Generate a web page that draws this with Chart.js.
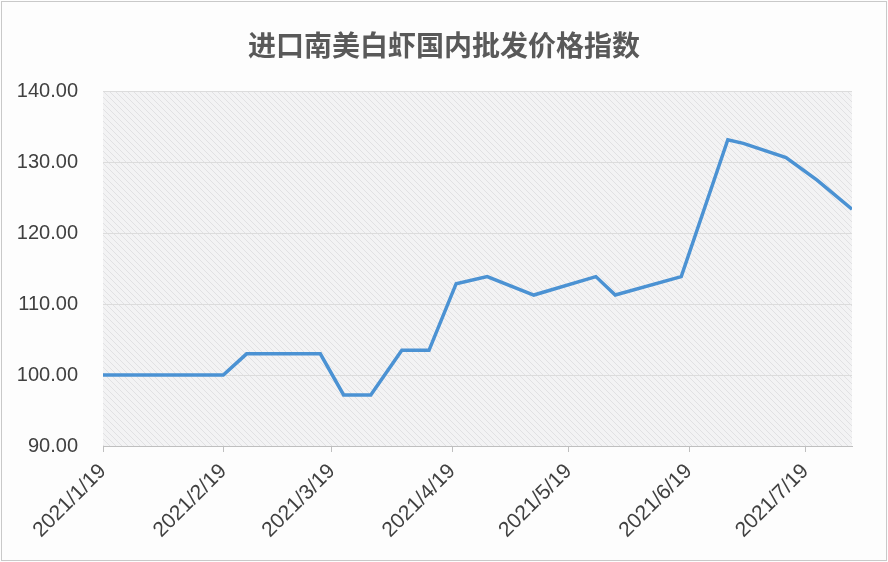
<!DOCTYPE html>
<html>
<head>
<meta charset="utf-8">
<script src="https://cdn.jsdelivr.net/npm/chart.js@4/dist/chart.umd.min.js"></script>
<style>
  html, body { margin: 0; padding: 0; background: #fdfdfd; }
  #wrap { width: 888px; height: 562px; position: relative; }
</style>
</head>
<body>
<div id="wrap"><canvas id="price"></canvas></div>
<script>
'use strict';

const title = "进口南美白虾国内批发价格指数";

var dates = [
    "2021/1/19", "2021/2/19", "2021/2/25", "2021/3/16", "2021/3/22",
    "2021/3/29", "2021/4/6", "2021/4/13", "2021/4/20", "2021/4/28",
    "2021/5/10", "2021/5/26", "2021/5/31", "2021/6/17", "2021/6/29",
    "2021/7/3", "2021/7/14", "2021/7/22", "2021/7/31"
];
var values = [
    100.0, 100.0, 103.0, 103.0, 97.2,
    97.2, 103.5, 103.5, 112.9, 113.9,
    111.3, 113.9, 111.3, 113.9, 133.2,
    132.7, 130.7, 127.5, 123.4
];

// x tick labels, one per month
var tickLabels = ["2021/1/19", "2021/2/19", "2021/3/19", "2021/4/19", "2021/5/19", "2021/6/19", "2021/7/19"];

// y ticks
var yMin = 90, yMax = 140, yStep = 10;

function toDay(s){
    var p = s.split("/");
    return Date.UTC(+p[0], +p[1] - 1, +p[2]) / 86400000;
}

function dayLabel(d){
    var dt = new Date(d * 86400000);
    return dt.getUTCFullYear() + "/" + (dt.getUTCMonth() + 1) + "/" + dt.getUTCDate();
}

var points = dates.map((d, i) => ({x: toDay(d), y: values[i]}));

// hatched plot background
function makeHatch(){
    var c = document.createElement("canvas");
    c.width = 6; c.height = 6;
    var g = c.getContext("2d");
    g.fillStyle = "#f3f3f4";
    g.fillRect(0, 0, 6, 6);
    g.strokeStyle = "#e1e1e3";
    g.lineWidth = 1;
    g.beginPath();
    g.moveTo(-1, -1); g.lineTo(7, 7);
    g.moveTo(-4, 2); g.lineTo(4, 10);
    g.moveTo(2, -4); g.lineTo(10, 4);
    g.stroke();
    return g.createPattern(c, "repeat");
}

var hatchPlugin = {
    id: "hatch",
    beforeDraw(chart){
        var a = chart.chartArea;
        var ctx = chart.ctx;
        ctx.save();
        ctx.strokeStyle = "#c9c9c9";
        ctx.lineWidth = 1;
        ctx.strokeRect(1.5, 1.5, chart.width - 3, chart.height - 3);
        ctx.fillStyle = makeHatch();
        ctx.fillRect(a.left, a.top, a.right - a.left, a.bottom - a.top);
        ctx.restore();
    }
};

const ctx = document.getElementById("price").getContext("2d");
var priceChart = new Chart(ctx, {
    type: "line",
    data: {
        datasets: [{
            label: title,
            data: points,
            borderColor: "#4b92d3",
            borderWidth: 3.5,
            pointRadius: 0,
            tension: 0,
            fill: false
        }]
    },
    options: {
        responsive: true,
        maintainAspectRatio: false,
        animation: false,
        layout: { padding: 0 },
        plugins: {
            legend: { display: false },
            tooltip: { enabled: false },
            title: {
                display: true,
                text: title,
                color: "#595959",
                font: { family: "'Noto Sans CJK SC', sans-serif", size: 28, weight: "bold" },
                padding: { top: 29, bottom: 29 }
            }
        },
        scales: {
            x: {
                type: "linear",
                min: points[0].x,
                max: points[points.length - 1].x,
                afterBuildTicks(scale){
                    scale.ticks = tickLabels.map(t => ({value: toDay(t)}));
                },
                afterFit(scale){ scale.height = 116; },
                grid: {
                    drawOnChartArea: false,
                    drawTicks: true,
                    tickLength: 6,
                    color: "#bfbfbf"
                },
                border: { color: "#bfbfbf", width: 1 },
                ticks: {
                    autoSkip: false,
                    maxRotation: 45,
                    minRotation: 45,
                    padding: 7,
                    color: "#404040",
                    font: { family: "'Liberation Sans', Arial, sans-serif", size: 21 },
                    callback: v => dayLabel(v)
                }
            },
            y: {
                min: yMin,
                max: yMax,
                afterFit(scale){ scale.width = 103; },
                grid: { color: "#dcdcdc", drawTicks: false },
                border: { display: false },
                ticks: {
                    stepSize: yStep,
                    padding: 25,
                    color: "#404040",
                    font: { family: "'Liberation Sans', Arial, sans-serif", size: 20 },
                    callback: v => v.toFixed(2)
                }
            },
            // empty right margin so the title centres on the whole canvas
            yRight: {
                position: "right",
                min: yMin,
                max: yMax,
                afterFit(scale){ scale.width = 36; },
                grid: { drawOnChartArea: false, drawTicks: false },
                border: { display: false },
                ticks: { display: false }
            }
        }
    },
    plugins: [hatchPlugin]
});
</script>
</body>
</html>
